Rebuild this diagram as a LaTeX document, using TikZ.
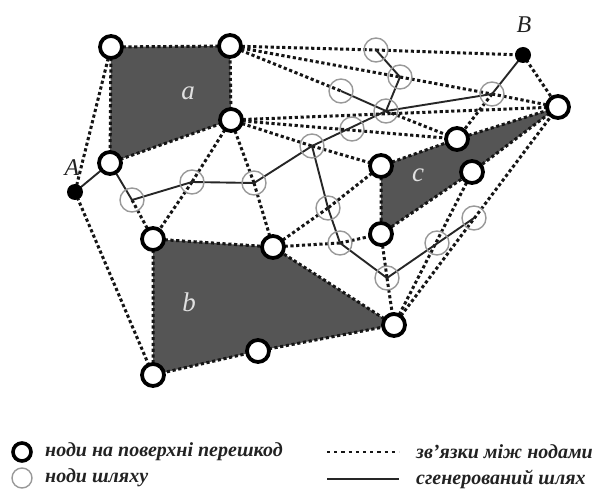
\documentclass[tikz,border=0pt]{standalone}
\usepackage{fontspec}
\setmainfont{Liberation Serif}

\pgfdeclarelayer{bg}
\pgfdeclarelayer{mid}
\pgfsetlayers{bg,mid,main}

\definecolor{obstfill}{HTML}{555555}
\definecolor{pathgray}{HTML}{999999}
\definecolor{linkcol}{HTML}{151515}
\definecolor{inktext}{HTML}{222222}

\tikzset{
  obst/.style={circle, draw=black, line width=3.8pt, fill=white, minimum size=22pt, inner sep=0pt},
  waypt/.style={circle, draw=pathgray, line width=1.4pt, minimum size=24pt, inner sep=0pt},
  term/.style={circle, fill=black, minimum size=16pt, inner sep=0pt},
  link/.style={draw=linkcol, line width=3pt, dash pattern=on 3.2pt off 2.6pt},
  route/.style={draw=black!85, line width=1.9pt, line join=round},
  region/.style={fill=obstfill},
  tag/.style={font=\itshape\fontsize{27}{27}\selectfont, text=white!88!black, inner sep=0pt},
  ptlabel/.style={font=\itshape\fontsize{24}{24}\selectfont, text=inktext, inner sep=0pt},
  legend/.style={font=\bfseries\itshape\fontsize{20}{20}\selectfont, text=inktext, anchor=west, inner sep=0pt}
}

\begin{document}
\begin{tikzpicture}[x=1pt,y=-1pt]
\useasboundingbox (0,0) rectangle (609,494);

% obstacle surface nodes
\node[obst] (o1)  at (111,47)  {};
\node[obst] (o2)  at (230,46)  {};
\node[obst] (o3)  at (231,120) {};
\node[obst] (o4)  at (110,163) {};
\node[obst] (o5)  at (153,239) {};
\node[obst] (o6)  at (273,247) {};
\node[obst] (o7)  at (394,325) {};
\node[obst] (o8)  at (258,351) {};
\node[obst] (o9)  at (153,375) {};
\node[obst] (o10) at (558,107) {};
\node[obst] (o11) at (457,139) {};
\node[obst] (o12) at (381,166) {};
\node[obst] (o13) at (472,172) {};
\node[obst] (o14) at (381,234) {};

% start and goal
\node[term] (A) at (75,192) {};
\node[term] (B) at (523,55) {};
\node[ptlabel] (Alab) at (72,168) {A};
\node[ptlabel] (Blab) at (524,25) {B};

% path nodes
\node[waypt] (g1)  at (376,50)  {};
\node[waypt] (g2)  at (400,77)  {};
\node[waypt] (g3)  at (341,91)  {};
\node[waypt] (g4)  at (492,94)  {};
\node[waypt] (g5)  at (386,111) {};
\node[waypt] (g6)  at (352,129) {};
\node[waypt] (g7)  at (312,146) {};
\node[waypt] (g8)  at (132,200) {};
\node[waypt] (g9)  at (192,182) {};
\node[waypt] (g10) at (254,183) {};
\node[waypt] (g11) at (328,208) {};
\node[waypt] (g12) at (340,243) {};
\node[waypt] (g13) at (387,278) {};
\node[waypt] (g15) at (437,243) {};
\node[waypt] (g16) at (474,218) {};

% obstacles
\begin{pgfonlayer}{bg}
  \draw[region, link] (o1.center) -- (o2.center) -- (o3.center) -- (o4.center) -- cycle;
  \draw[region, link] (o5.center) -- (o6.center) -- (o7.center) -- (o8.center) -- (o9.center) -- cycle;
  \draw[region, link] (o12.center) -- (o11.center) -- (o10.center) -- (o13.center) -- (o14.center) -- cycle;
\end{pgfonlayer}

\node[tag] (ta) at (188,93)  {a};
\node[tag] (tb) at (189,302) {b};
\node[tag] (tc) at (418,175) {c};

% links between nodes
\begin{pgfonlayer}{mid}
  \foreach \u/\v in {o1/A, A/o9, g8/o5, o3/g9, g9/o5, o3/g10, g10/o6,
                     o2/g1, o2/g2, o2/g3, g1/B, g2/g4, g4/o10, B/o10, g4/o11,
                     o3/o10, o3/o11, o3/g7, g5/o11, g7/o12, o12/g11, g11/o6,
                     o6/g12, g12/o14, o14/g13, g13/o7, o7/o13, o7/o10}
    \draw[link] (\u.center) -- (\v.center);

  % generated path
  \draw[route] (A.center) -- (o4.center) -- (g8.center) -- (g9.center) -- (g10.center)
               -- (g7.center) -- (g5.center) -- (g2.center) -- (g1.center);
  \draw[route] (g3.center) -- (g5.center) -- (g4.center) -- (B.center);
  \draw[route] (g7.center) -- (g11.center) -- (g12.center) -- (g13.center) -- (g16.center);
\end{pgfonlayer}

% legend
\node[obst, minimum size=18pt, line width=3.6pt] (lg1) at (22,452) {};
\node[waypt, minimum size=20pt] (lg2) at (22,478) {};
\node[legend] (lt1) at (45,452) {ноди на поверхні перешкод};
\node[legend] (lt2) at (45,478) {ноди шляху};
\coordinate (ld1) at (327,452);
\coordinate (ld2) at (399,452);
\draw[link, line width=2.4pt, dash pattern=on 3.2pt off 4pt] (ld1) -- (ld2);
\node[legend] (lt3) at (416,452) {зв’язки між нодами};
\coordinate (ls1) at (327,479);
\coordinate (ls2) at (399,479);
\draw[route, line width=2.6pt] (ls1) -- (ls2);
\node[legend] (lt4) at (416,479) {сгенерований шлях};
\end{tikzpicture}
\end{document}
